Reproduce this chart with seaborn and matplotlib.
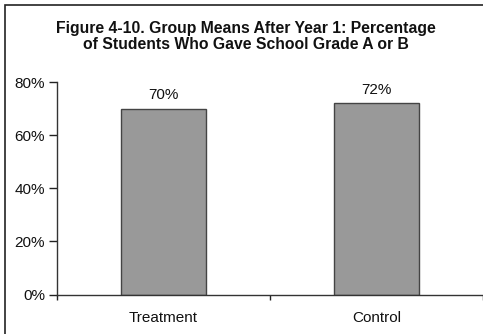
import matplotlib
matplotlib.use("Agg")
import matplotlib.pyplot as plt
import matplotlib.font_manager as fm
import seaborn as sns
import pandas as pd
from matplotlib.patches import Rectangle
from matplotlib.ticker import PercentFormatter, FixedLocator

groups = ["Treatment", "Control"]
percent_a_or_b = [70, 72]
y_ticks = [0, 20, 40, 60, 80]

sns.set_theme(style="white")
plt.rcParams["font.family"] = ["Liberation Sans", "DejaVu Sans"]

# regular-width bold face for the heading
bold_files = [f.fname for f in fm.fontManager.ttflist
              if f.name == "Liberation Sans" and f.weight in (700, "bold")
              and f.style == "normal"]
if bold_files:
    title_font = fm.FontProperties(fname=bold_files[0], size=11.3)
else:
    title_font = fm.FontProperties(family="Liberation Sans", weight="bold", size=11.3)

df = pd.DataFrame({"group": groups, "pct": percent_a_or_b})

fig = plt.figure(figsize=(4.83, 3.34), dpi=100)
ax = fig.add_axes([57 / 483, 1 - 294.5 / 334, 1 - 57 / 483, (294.5 - 82) / 334])

sns.barplot(data=df, x="group", y="pct", ax=ax, color="#999999",
            saturation=1, width=0.4, edgecolor="#444444", linewidth=1)

for p, v in zip(ax.patches, percent_a_or_b):
    ax.text(p.get_x() + p.get_width() / 2, v + 2.3, f"{v}%",
            ha="center", va="bottom", fontsize=11, color="#111111")

ax.set_xlim(-0.5, len(groups) - 0.5)
ax.set_ylim(0, 80)
ax.set_yticks(y_ticks)
ax.yaxis.set_major_formatter(PercentFormatter(decimals=0))
ax.set_xlabel("")
ax.set_ylabel("")
ax.tick_params(axis="y", direction="out", length=5.5, width=1, color="#222222",
               labelsize=11, labelcolor="#111111", pad=3, left=True)
ax.tick_params(axis="x", which="major", length=0, labelsize=11,
               labelcolor="#111111", pad=12)
# tick marks between categories
ax.xaxis.set_minor_locator(FixedLocator([i - 0.5 for i in range(len(groups) + 1)]))
ax.tick_params(axis="x", which="minor", direction="out", length=3.5, width=1,
               color="#222222", bottom=True)
for s in ["top", "right"]:
    ax.spines[s].set_visible(False)
for s in ["left", "bottom"]:
    ax.spines[s].set_color("#333333")
    ax.spines[s].set_linewidth(1)

fig.text(245.5 / 483, 1 - 36.5 / 334,
         "Figure 4-10. Group Means After Year 1: Percentage\nof Students Who Gave School Grade A or B",
         ha="center", va="center", fontproperties=title_font,
         color="#111111", linespacing=1.15)

# chart frame
fig.patches.append(Rectangle((5 / 483, -0.1), 1.2, 1 - 4.5 / 334 + 0.1,
                             transform=fig.transFigure, fill=False,
                             edgecolor="#222222", linewidth=1.2))

fig.savefig("out.png", dpi=100)
